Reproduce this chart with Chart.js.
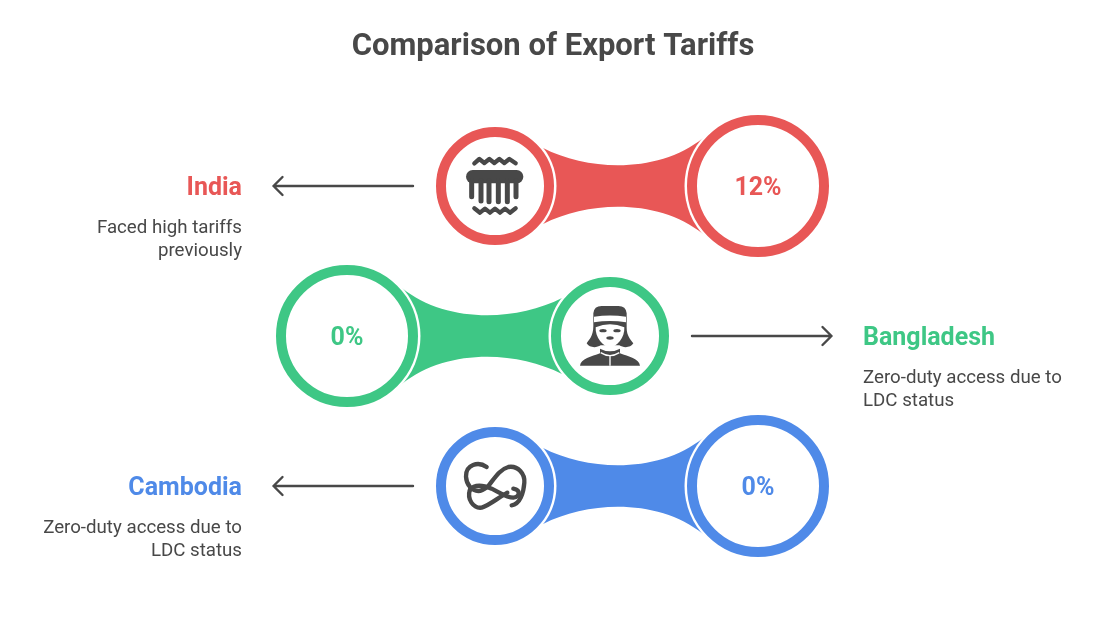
<!DOCTYPE html>
<html>
<head>
<meta charset="utf-8">
<title>Comparison of Export Tariffs</title>
<script src="https://cdn.jsdelivr.net/npm/chart.js@4/dist/chart.umd.min.js"></script>
<style>
  html, body { margin: 0; padding: 0; background: #fff; }
  #wrap { width: 1106px; height: 625px; }
</style>
</head>
<body>
<div id="wrap"><canvas id="chart"></canvas></div>
<script>
const countries = ["India", "Bangladesh", "Cambodia"]
const tariffs = [12, 0, 0]
const notes = [
  ["Faced high tariffs", "previously"],
  ["Zero-duty access due to", "LDC status"],
  ["Zero-duty access due to", "LDC status"],
]
const rows = [0, 1, 2]
const labelSides = ["left", "right", "left"]

const chartTitle = "Comparison of Export Tariffs"
const INK = "#484848"
const ROW_COLORS = ["#e85756", "#3ec785", "#4f8ae8"]
const FONT = "Roboto, sans-serif"

const HUB_RADIUS = 54
const VALUE_RADIUS = 66
const RING = 10
const GAP = 2.5

// x of the pair middle, the hub sits on the label side of it
const pairCenter = side => (side === "left" ? 626.5 : 478.5)
const hubX = side => pairCenter(side) + (side === "left" ? -131.5 : 131.5)
const valueX = side => pairCenter(side) + (side === "left" ? 131.5 : -131.5)

// icons are in 1/3 px units around the hub centre
function drawComb(ctx) {
  ctx.fillStyle = INK
  ctx.strokeStyle = INK
  ctx.lineCap = "round"
  ctx.lineJoin = "round"
  ctx.beginPath()
  ctx.roundRect(-87, -48, 172, 40, 20)
  ctx.fill()
  const teeth = [[-70, 32], [-42, 45], [-18, 47], [10, 47], [37, 47], [63, 32]]
  ctx.lineWidth = 15
  teeth.forEach(([x, end]) => {
    ctx.beginPath()
    ctx.moveTo(x, -15)
    ctx.lineTo(x, end)
    ctx.stroke()
  })
  ctx.lineWidth = 13
  ctx.beginPath()
  ctx.moveTo(-62, -68)
  ;[[-47, -81], [-32, -69], [-17, -81], [-2, -69], [13, -81], [28, -69], [43, -81], [62, -68]].forEach(p => ctx.lineTo(p[0], p[1]))
  ctx.stroke()
  ctx.beginPath()
  ctx.moveTo(-62, 67)
  ;[[-45, 80], [-30, 68], [-15, 80], [0, 68], [15, 80], [30, 68], [45, 80], [62, 67]].forEach(p => ctx.lineTo(p[0], p[1]))
  ctx.stroke()
}

function drawWoman(ctx) {
  ctx.fillStyle = INK
  // cap and hair
  ctx.beginPath()
  ctx.moveTo(-50, -30)
  ctx.lineTo(-50, -68)
  ctx.quadraticCurveTo(-48, -90, -25, -90)
  ctx.lineTo(25, -90)
  ctx.quadraticCurveTo(48, -90, 50, -68)
  ctx.lineTo(50, -25)
  ctx.bezierCurveTo(50, 0, 62, 10, 70, 22)
  ctx.bezierCurveTo(62, 36, 40, 36, 28, 28)
  ctx.lineTo(-28, 28)
  ctx.bezierCurveTo(-40, 36, -62, 36, -70, 22)
  ctx.bezierCurveTo(-62, 10, -50, 0, -50, -30)
  ctx.fill()
  // shoulders
  ctx.beginPath()
  ctx.moveTo(-90, 89)
  ctx.bezierCurveTo(-88, 68, -55, 62, -30, 52)
  ctx.lineTo(-30, 38)
  ctx.quadraticCurveTo(0, 54, 30, 38)
  ctx.lineTo(30, 52)
  ctx.bezierCurveTo(55, 62, 88, 68, 90, 89)
  ctx.closePath()
  ctx.fill()
  ctx.fillStyle = "#fff"
  // cap band
  ctx.beginPath()
  ctx.moveTo(-48, -41)
  ctx.quadraticCurveTo(0, -49, 48, -41)
  ctx.lineTo(48, -58)
  ctx.quadraticCurveTo(0, -65, -48, -58)
  ctx.closePath()
  ctx.fill()
  // face
  ctx.beginPath()
  ctx.moveTo(-43, -26)
  ctx.quadraticCurveTo(0, -44, 43, -26)
  ctx.bezierCurveTo(45, 5, 20, 33, 0, 35)
  ctx.bezierCurveTo(-20, 33, -45, 5, -43, -26)
  ctx.fill()
  // collar gaps
  ctx.strokeStyle = "#fff"
  ctx.lineWidth = 4
  ctx.beginPath()
  ctx.moveTo(-28, 50)
  ctx.quadraticCurveTo(0, 68, 28, 50)
  ctx.moveTo(0, 60)
  ctx.lineTo(0, 89)
  ctx.stroke()
  ctx.fillStyle = INK
  ctx.beginPath()
  ctx.ellipse(-21, -16, 11, 5, 0, 0, Math.PI * 2)
  ctx.ellipse(21, -16, 11, 5, 0, 0, Math.PI * 2)
  ctx.fill()
  ctx.beginPath()
  ctx.ellipse(0, 6, 11, 5, 0, 0, Math.PI * 2)
  ctx.fill()
}

function drawKnot(ctx) {
  ctx.strokeStyle = INK
  ctx.lineWidth = 13
  ctx.lineCap = "round"
  ctx.lineJoin = "round"
  // hook, diagonal and upper lobe
  ctx.beginPath()
  ctx.moveTo(-25, -57)
  ctx.bezierCurveTo(-50, -75, -88, -65, -87, -28)
  ctx.bezierCurveTo(-86, -5, -70, 15, -50, 15)
  ctx.bezierCurveTo(-38, 15, -30, 8, -20, 0)
  ctx.bezierCurveTo(0, -25, 15, -50, 40, -57)
  ctx.bezierCurveTo(70, -62, 90, -35, 88, -10)
  ctx.bezierCurveTo(86, 20, 75, 55, 50, 58)
  ctx.stroke()
  // lower lobe
  ctx.beginPath()
  ctx.moveTo(-75, 10)
  ctx.bezierCurveTo(-85, 40, -65, 68, -40, 65)
  ctx.bezierCurveTo(-20, 60, 10, 35, 37, 20)
  ctx.stroke()
  // middle strand
  ctx.beginPath()
  ctx.moveTo(-75, 12)
  ctx.bezierCurveTo(-60, -8, -35, -2, -10, 8)
  ctx.bezierCurveTo(15, 20, 35, 35, 55, 35)
  ctx.bezierCurveTo(75, 33, 78, 12, 55, 8)
  ctx.stroke()
}

const ICONS = [drawComb, drawWoman, drawKnot]

const bridgePlugin = {
  id: "bridge",
  beforeDatasetsDraw(chart) {
    const { ctx } = chart
    const hubs = chart.getDatasetMeta(0).data
    const values = chart.getDatasetMeta(1).data
    rows.forEach(i => {
      const hub = hubs[i]
      const val = values[i]
      const dir = val.x > hub.x ? 1 : -1
      const y = hub.y
      ctx.save()
      ctx.fillStyle = ROW_COLORS[i]
      ctx.beginPath()
      ctx.moveTo(hub.x + dir * 48, y - 38)
      ctx.bezierCurveTo(hub.x + dir * 95, y - 14, hub.x + dir * 165, y - 13, val.x - dir * 55, y - 48)
      ctx.lineTo(val.x - dir * 55, y + 48)
      ctx.bezierCurveTo(hub.x + dir * 165, y + 13, hub.x + dir * 95, y + 14, hub.x + dir * 48, y + 38)
      ctx.closePath()
      ctx.fill()
      // white halo between the bridge and the rings
      ctx.fillStyle = "#fff"
      ;[[hub, HUB_RADIUS], [val, VALUE_RADIUS]].forEach(([p, r]) => {
        ctx.beginPath()
        ctx.arc(p.x, p.y, r + RING / 2 + GAP, 0, Math.PI * 2)
        ctx.fill()
      })
      ctx.restore()
    })
  },
  afterDatasetsDraw(chart) {
    const { ctx } = chart
    const hubs = chart.getDatasetMeta(0).data
    const values = chart.getDatasetMeta(1).data
    rows.forEach(i => {
      const hub = hubs[i]
      const out = labelSides[i] === "left" ? -1 : 1
      const y = hub.y
      ctx.save()
      // icon
      ctx.save()
      ctx.translate(hub.x, y)
      ctx.scale(1 / 3, 1 / 3)
      ICONS[i](ctx)
      ctx.restore()
      // arrow
      ctx.strokeStyle = INK
      ctx.lineWidth = 2.4
      ctx.lineCap = "round"
      ctx.lineJoin = "round"
      const tip = hub.x + out * 221.5
      ctx.beginPath()
      ctx.moveTo(hub.x + out * 82, y)
      ctx.lineTo(tip, y)
      ctx.moveTo(tip - out * 9, y - 9)
      ctx.lineTo(tip, y)
      ctx.lineTo(tip - out * 9, y + 9)
      ctx.stroke()
      // value in the big ring
      ctx.textBaseline = "middle"
      ctx.textAlign = "center"
      ctx.fillStyle = ROW_COLORS[i]
      ctx.font = "bold 25px " + FONT
      ctx.fillText(tariffs[i] + "%", values[i].x, y + 3)
      // country and note
      const textX = hub.x + out * 253
      ctx.textAlign = out < 0 ? "right" : "left"
      ctx.fillText(countries[i], textX, y + 3)
      ctx.fillStyle = INK
      ctx.font = "18.7px " + FONT
      notes[i].forEach((line, n) => ctx.fillText(line, textX, y + 42 + n * 23))
      ctx.restore()
    })
  },
}

new Chart(document.getElementById("chart"), {
  type: "scatter",
  data: {
    datasets: [
      {
        label: "Icon",
        data: rows.map(i => ({ x: hubX(labelSides[i]), y: i })),
        pointRadius: HUB_RADIUS,
      },
      {
        label: "Tariff",
        data: rows.map(i => ({ x: valueX(labelSides[i]), y: i })),
        pointRadius: VALUE_RADIUS,
      },
    ].map(ds => ({
      ...ds,
      pointStyle: "circle",
      pointBackgroundColor: "#fff",
      pointBorderColor: ROW_COLORS,
      pointBorderWidth: RING,
      pointHoverRadius: ds.pointRadius,
    })),
  },
  options: {
    responsive: true,
    maintainAspectRatio: false,
    animation: false,
    events: [],
    layout: { padding: 0, autoPadding: false },
    plugins: {
      legend: { display: false },
      tooltip: { enabled: false },
      title: {
        display: true,
        text: chartTitle,
        color: INK,
        font: { family: FONT, size: 31, weight: "bold", lineHeight: 1.2 },
        padding: { top: 29, bottom: 0 },
      },
    },
    scales: {
      x: { type: "linear", display: false, min: 0, max: 1106 },
      y: { type: "linear", display: false, reverse: true, min: -0.7987, max: 2.9267 },
    },
  },
  plugins: [bridgePlugin],
})
</script>
</body>
</html>
